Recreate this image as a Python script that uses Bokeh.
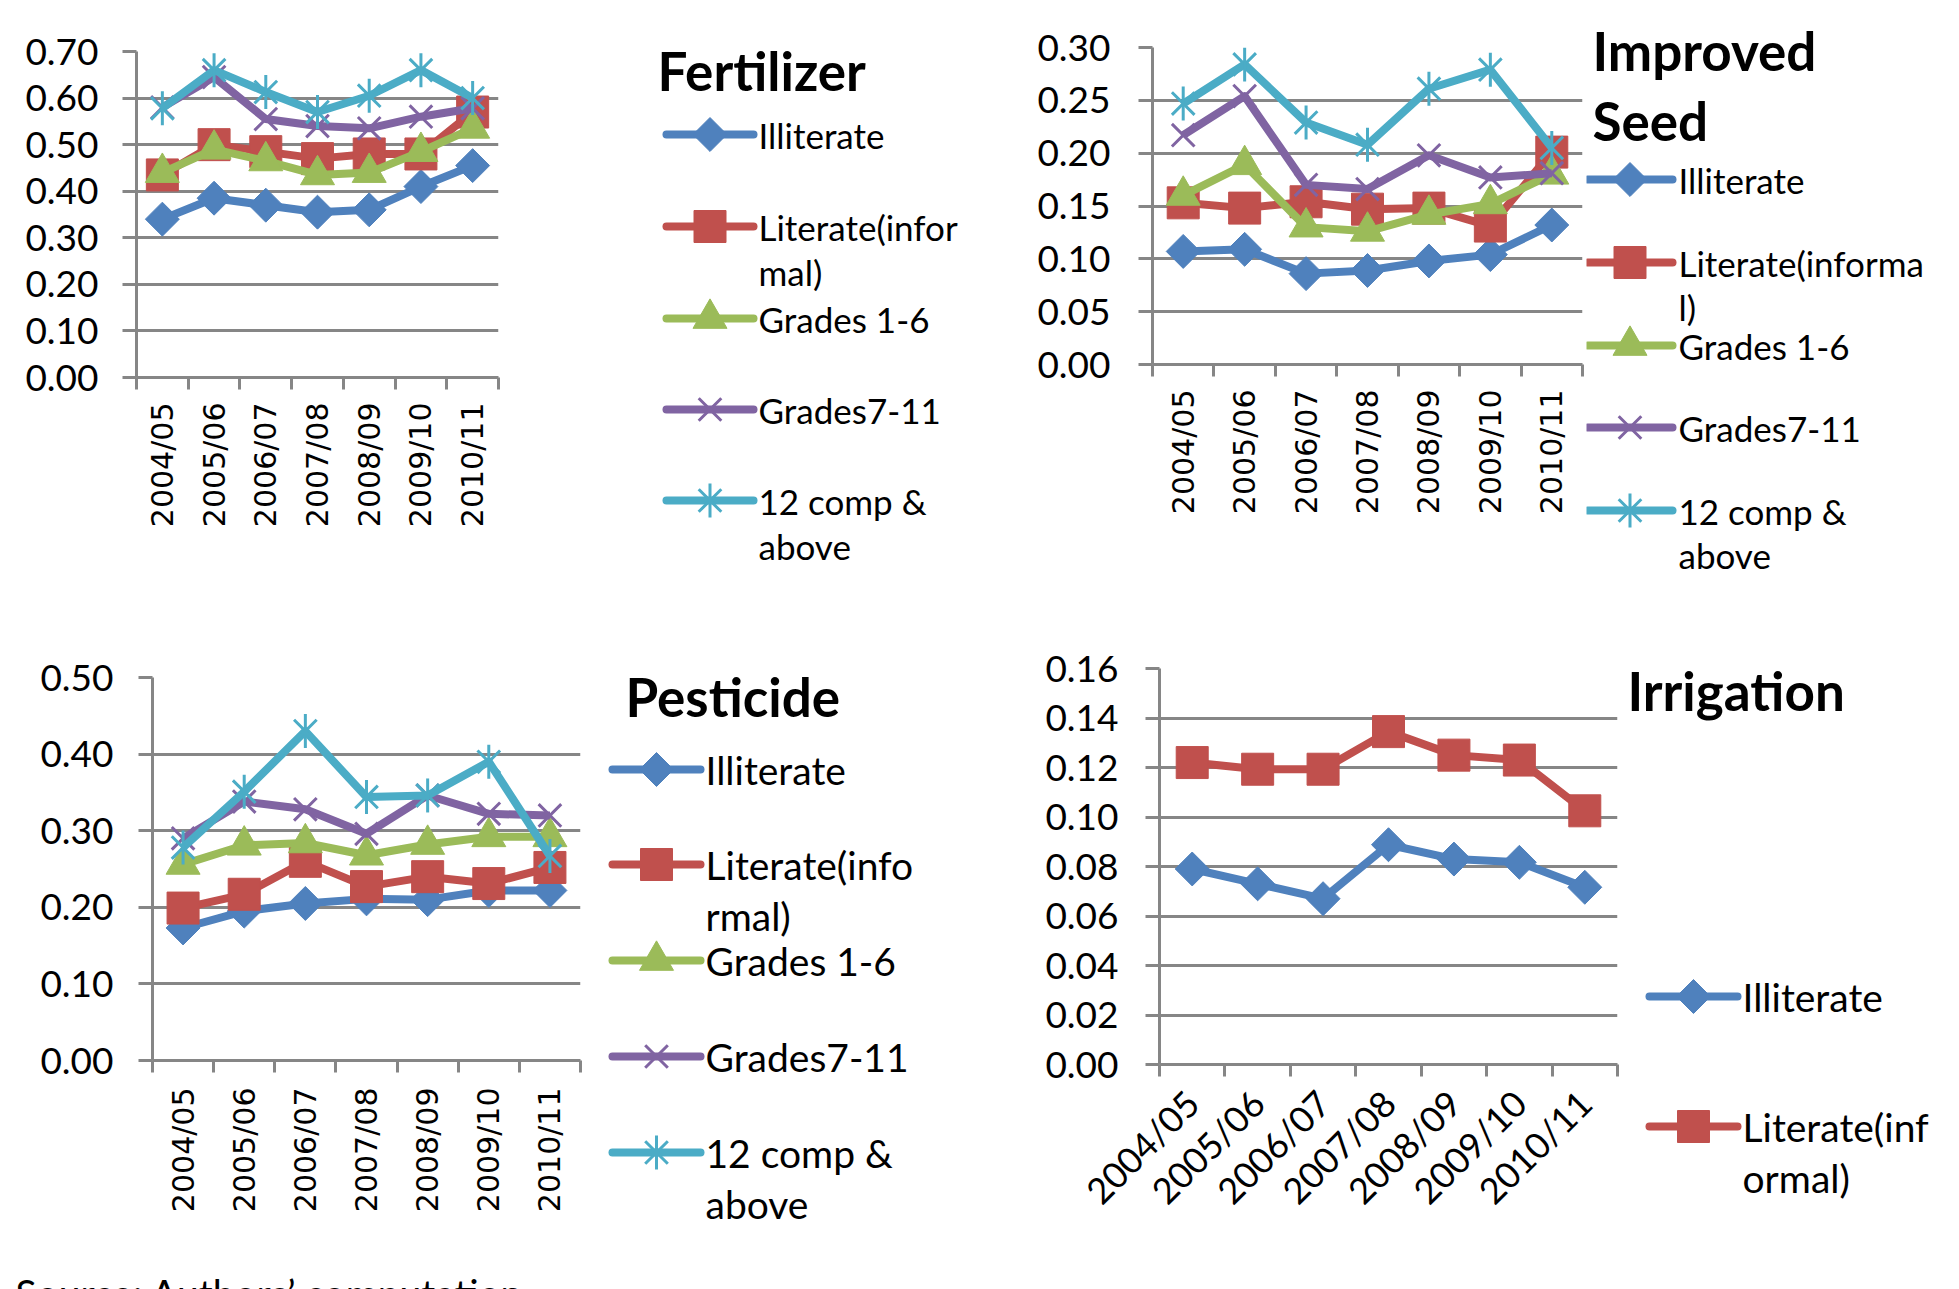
import math

from bokeh.core.properties import value
from bokeh.embed import file_html
from bokeh.layouts import column, row
from bokeh.models import FixedTicker, PrintfTickFormatter, Range1d
from bokeh.plotting import figure
from bokeh.resources import INLINE

# ---------------------------------------------------------------- data
years = ["2004/05", "2005/06", "2006/07", "2007/08", "2008/09", "2009/10", "2010/11"]

fert_illiterate = [0.340, 0.385, 0.370, 0.355, 0.360, 0.410, 0.455]
fert_literate = [0.435, 0.500, 0.485, 0.470, 0.480, 0.480, 0.570]
fert_grades1_6 = [0.440, 0.490, 0.465, 0.435, 0.440, 0.485, 0.535]
fert_grades7_11 = [0.580, 0.645, 0.555, 0.540, 0.535, 0.560, 0.578]
fert_12comp = [0.578, 0.660, 0.613, 0.570, 0.605, 0.660, 0.600]

seed_illiterate = [0.107, 0.109, 0.086, 0.089, 0.098, 0.104, 0.132]
seed_literate = [0.153, 0.148, 0.154, 0.147, 0.148, 0.131, 0.201]
seed_grades1_6 = [0.160, 0.189, 0.130, 0.126, 0.142, 0.152, 0.180]
seed_grades7_11 = [0.217, 0.254, 0.170, 0.166, 0.198, 0.177, 0.181]
seed_12comp = [0.247, 0.284, 0.229, 0.208, 0.261, 0.279, 0.205]

pest_illiterate = [0.173, 0.195, 0.205, 0.211, 0.210, 0.222, 0.222]
pest_literate = [0.199, 0.217, 0.260, 0.227, 0.240, 0.231, 0.252]
pest_grades1_6 = [0.256, 0.281, 0.284, 0.268, 0.282, 0.292, 0.292]
pest_grades7_11 = [0.290, 0.338, 0.328, 0.296, 0.346, 0.322, 0.320]
pest_12comp = [0.278, 0.351, 0.430, 0.344, 0.346, 0.390, 0.267]

irr_illiterate = [0.0790, 0.0730, 0.0670, 0.0888, 0.0830, 0.0817, 0.0716]
irr_literate = [0.1220, 0.1193, 0.1193, 0.1345, 0.1250, 0.1230, 0.1025]

fert_ticks = [0.0, 0.1, 0.2, 0.3, 0.4, 0.5, 0.6, 0.7]
seed_ticks = [0.0, 0.05, 0.10, 0.15, 0.20, 0.25, 0.30]
pest_ticks = [0.0, 0.1, 0.2, 0.3, 0.4, 0.5]
irr_ticks = [0.0, 0.02, 0.04, 0.06, 0.08, 0.10, 0.12, 0.14, 0.16]

# ---------------------------------------------------------------- styles
BLUE, RED, GREEN, PURPLE, CYAN = "#4F81BD", "#C0504D", "#9BBB59", "#8064A2", "#4BACC6"
GREY = "#868686"
STYLES = [(BLUE, "diamond"), (RED, "square"), (GREEN, "triangle"),
          (PURPLE, "x"), (CYAN, "star")]
FONT = "Lato"
LINE_W = 8

xpos = list(range(1, len(years) + 1))
bounds = [i + 0.5 for i in range(len(years) + 1)]


def draw_marker(p, kind, x, y, color):
    if kind == "diamond":
        p.scatter(x, y, marker="square", angle=math.pi / 4, size=24,
                  fill_color=color, line_color=color)
    elif kind == "square":
        p.scatter(x, y, marker="square", size=32, fill_color=color, line_color=color)
    elif kind == "triangle":
        p.scatter(x, y, marker="triangle", size=34, fill_color=color, line_color=color)
    elif kind == "x":
        p.scatter(x, y, marker="x", size=32, line_color=color, line_width=3)
    else:
        p.scatter(x, y, marker="x", size=32, line_color=color, line_width=3)
        p.scatter(x, y, marker="dash", angle=math.pi / 2, size=34,
                  line_color=color, line_width=3)


def chart(width, height, left, top, frame_w, frame_h, ticks, series,
          x_angle, x_font, x_size, x_standoff, y_standoff):
    p = figure(width=width, height=height,
               x_range=Range1d(0.5, len(years) + 0.5),
               y_range=Range1d(ticks[0], ticks[-1]),
               min_border_left=left, min_border_top=top,
               min_border_right=width - left - frame_w,
               min_border_bottom=height - top - frame_h,
               output_backend="svg", toolbar_location=None)
    p.outline_line_color = None
    p.xgrid.visible = False
    p.ygrid.ticker = FixedTicker(ticks=ticks)
    p.ygrid.grid_line_color = GREY
    p.ygrid.grid_line_width = 3

    ya = p.yaxis[0]
    ya.ticker = FixedTicker(ticks=ticks)
    ya.formatter = PrintfTickFormatter(format="%.2f")
    ya.axis_line_color = GREY
    ya.axis_line_width = 3
    ya.major_tick_line_color = GREY
    ya.major_tick_line_width = 3
    ya.major_tick_out = 14
    ya.major_tick_in = 0
    ya.minor_tick_line_color = None
    ya.major_label_text_font = FONT
    ya.major_label_text_font_size = "37px"
    ya.major_label_text_color = "black"
    ya.major_label_standoff = y_standoff

    xa = p.xaxis[0]
    xa.ticker = FixedTicker(ticks=xpos, minor_ticks=bounds)
    xa.major_label_overrides = {x: lab for x, lab in zip(xpos, years)}
    xa.axis_line_color = GREY
    xa.axis_line_width = 3
    xa.major_tick_line_color = None
    xa.major_tick_out = 0
    xa.major_tick_in = 0
    xa.minor_tick_line_color = GREY
    xa.minor_tick_line_width = 3
    xa.minor_tick_out = 12
    xa.minor_tick_in = 0
    xa.major_label_orientation = x_angle
    xa.major_label_text_font = x_font
    xa.major_label_text_font_size = x_size
    xa.major_label_text_color = "black"
    xa.major_label_standoff = x_standoff

    for vals, (color, kind) in zip(series, STYLES):
        p.line(xpos, vals, line_color=color, line_width=LINE_W, line_join="round")
        draw_marker(p, kind, xpos, vals, color)
    return p


def canvas(width, height):
    p = figure(width=width, height=height,
               x_range=Range1d(0, width), y_range=Range1d(height, 0),
               min_border=0, x_axis_location=None, y_axis_location=None,
               output_backend="svg", toolbar_location=None)
    p.grid.visible = False
    p.outline_line_color = None
    return p


def key(p, title_lines, title_x, title_ys, line_x0, line_x1, text_x,
        labels, item_ys, gap, size):
    p.text(x=[title_x] * len(title_lines), y=title_ys, text=title_lines,
           text_font=value(FONT), text_font_style="bold", text_font_size="53px",
           text_baseline="middle", text_color="black")
    for lab, y, (color, kind) in zip(labels, item_ys, STYLES):
        p.segment(x0=[line_x0], y0=[y], x1=[line_x1], y1=[y],
                  line_color=color, line_width=LINE_W, line_cap="round")
        draw_marker(p, kind, [(line_x0 + line_x1) / 2], [y], color)
        parts = lab.split("\n")
        p.text(x=[text_x] * len(parts), y=[y + gap * i for i in range(len(parts))],
               text=parts, text_font=value(FONT), text_font_size=size,
               text_baseline="middle", text_color="black")


# ---------------------------------------------------------------- top row
fert = chart(520, 630, 136, 51, 362, 326, fert_ticks,
             [fert_illiterate, fert_literate, fert_grades1_6, fert_grades7_11, fert_12comp],
             math.pi / 2, "DejaVu Sans", "30px", 13, 24)
fert_key = canvas(480, 630)
key(fert_key, ["Fertilizer"], 137, [70], 146, 233, 238,
    ["Illiterate", "Literate(infor\nmal)", "Grades 1-6", "Grades7-11", "12 comp &\nabove"],
    [134, 226, 318, 409, 500], 45, "35px")

seed = chart(586, 630, 152, 47, 430, 317, seed_ticks,
             [seed_illiterate, seed_literate, seed_grades1_6, seed_grades7_11, seed_12comp],
             math.pi / 2, "DejaVu Sans", "30px", 13, 28)
seed_key = canvas(373, 630)
key(seed_key, ["Improved", "Seed"], 6, [50, 120], 1, 86, 92,
    ["Illiterate", "Literate(informa\nl)", "Grades 1-6", "Grades7-11", "12 comp &\nabove"],
    [179, 262, 345, 427, 510], 44, "35px")

# ---------------------------------------------------------------- bottom row
pest = chart(600, 635, 152, 47, 428, 383, pest_ticks,
             [pest_illiterate, pest_literate, pest_grades1_6, pest_grades7_11, pest_12comp],
             math.pi / 2, "DejaVu Sans", "30px", 15, 25)
pest_key = canvas(400, 635)
key(pest_key, ["Pesticide"], 25, [66], 12, 100, 105,
    ["Illiterate", "Literate(info\nrmal)", "Grades 1-6", "Grades7-11", "12 comp &\nabove"],
    [139, 234, 330, 426, 522], 51, "39px")

irr = chart(622, 635, 159, 38, 458, 396, irr_ticks,
            [irr_illiterate, irr_literate],
            math.pi / 4, FONT, "36px", 20, 27)
irr_key = canvas(337, 635)
key(irr_key, ["Irrigation"], 5, [60], 27, 115, 120,
    ["Illiterate", "Literate(inf\normal)"],
    [366, 496], 51, "39px")

# ---------------------------------------------------------------- source line
note = canvas(1959, 24)
note.text(x=[15], y=[4], text=["Source: Authors\u2019 computation"],
          text_font=value(FONT), text_font_size="39px",
          text_baseline="top", text_color="black")

# each panel sits in its own column so that frames are not aligned across the row
page = column(row(column(fert), column(fert_key), column(seed), column(seed_key)),
              row(column(pest), column(pest_key), column(irr), column(irr_key)),
              note)

open("out.html", "w").write(file_html(page, INLINE))
